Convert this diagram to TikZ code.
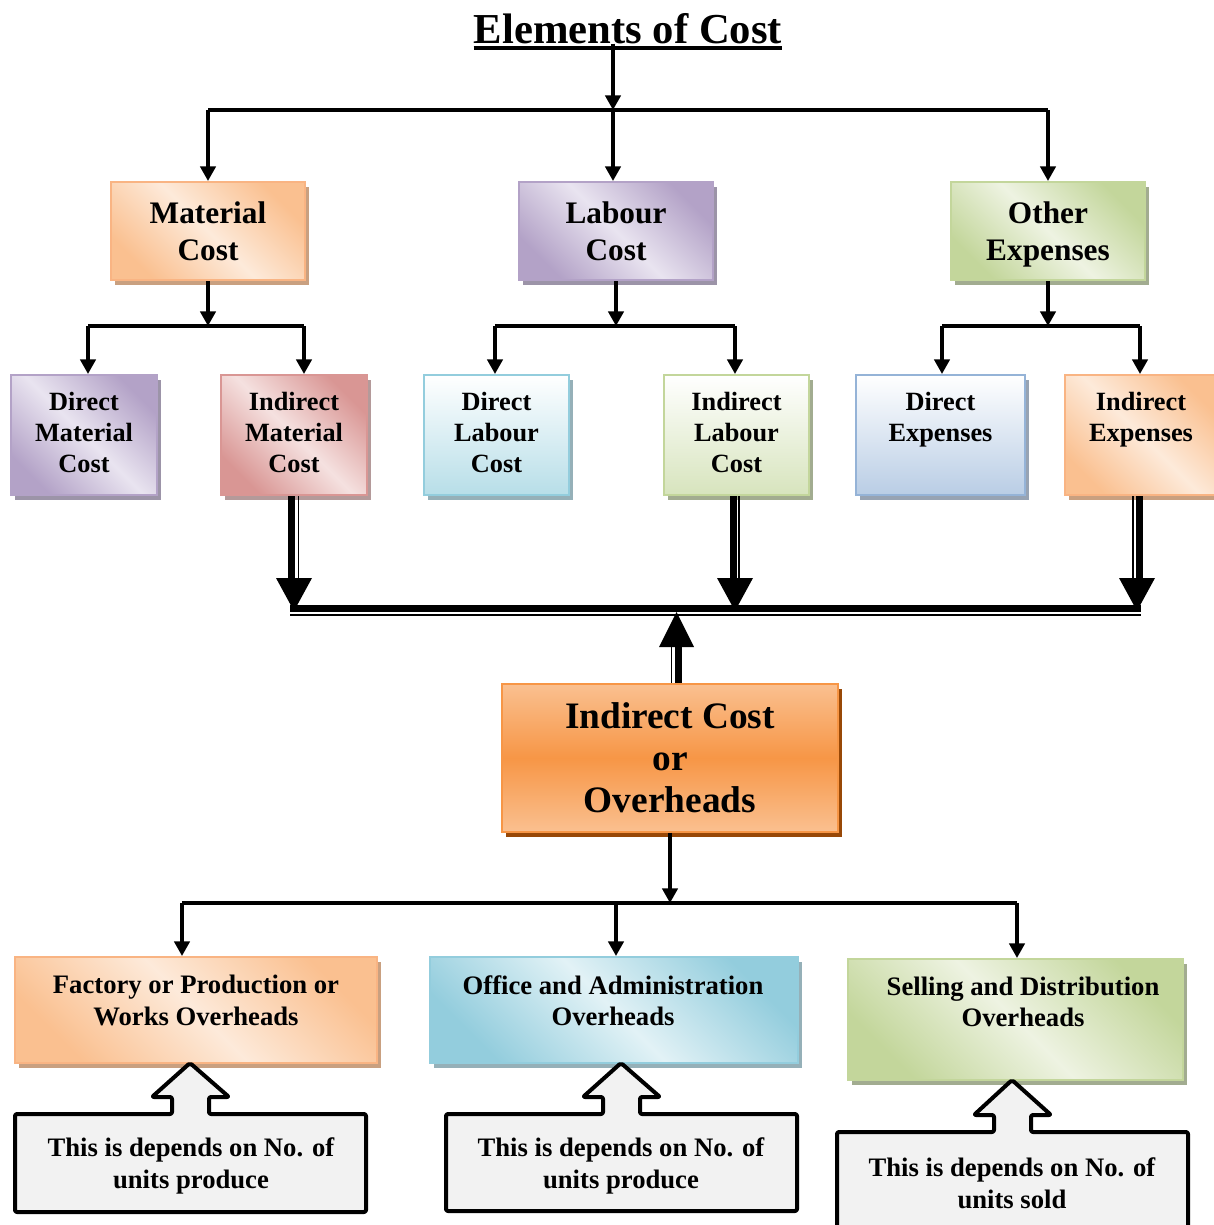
\documentclass[tikz,border=0pt]{standalone}
\usepackage{fontspec}
\setmainfont{Liberation Serif}
\usetikzlibrary{arrows.meta,shadows,calc}
\definecolor{orD}{HTML}{FAC090}
\definecolor{orL}{HTML}{FDEADA}
\definecolor{orB}{HTML}{F9B483}
\definecolor{orS}{HTML}{C9A080}
\definecolor{puD}{HTML}{B3A2C7}
\definecolor{puL}{HTML}{E9E4F0}
\definecolor{puS}{HTML}{9C94A8}
\definecolor{grD}{HTML}{C3D69B}
\definecolor{grL}{HTML}{EEF3E2}
\definecolor{grS}{HTML}{A2AC90}
\definecolor{rdD}{HTML}{D99694}
\definecolor{rdL}{HTML}{F5E1E0}
\definecolor{rdS}{HTML}{B49A9A}
\definecolor{blD}{HTML}{B7DEE8}
\definecolor{blB}{HTML}{93CDDD}
\definecolor{blS}{HTML}{95B0B8}
\definecolor{bbD}{HTML}{B9CDE5}
\definecolor{bbB}{HTML}{95B3D7}
\definecolor{bbS}{HTML}{97A3B3}
\definecolor{g2D}{HTML}{D7E4BD}
\definecolor{icL}{HTML}{FAC090}
\definecolor{icM}{HTML}{F79646}
\definecolor{icS}{HTML}{984807}
\definecolor{ofD}{HTML}{93CDDD}
\definecolor{ofL}{HTML}{E2F2F6}
\definecolor{cfill}{HTML}{F2F2F2}
\begin{document}
\begin{tikzpicture}[x=0.75pt,y=-0.75pt,
  box/.style={draw, line width=1.5pt, inner sep=0pt, align=center},
  diag/.style 2 args={top color=#1, bottom color=#1, middle color=#2, shading angle=-45},
  vert/.style={top color=white, bottom color=#1},
  shad/.style={general shadow={fill=#1, shadow xshift=3pt, shadow yshift=-3.75pt}},
  lone/.style={box, minimum width=145.5pt, minimum height=73.5pt, font=\bfseries\fontsize{23.5}{27.75}\selectfont},
  ltwo/.style={box, minimum height=90pt, font=\bfseries\fontsize{19.75}{23.25}\selectfont},
  lthree/.style={box, font=\bfseries\fontsize{20}{23.25}\selectfont},
  txt/.style={inner sep=0pt, align=center, font=\bfseries\fontsize{20}{23.5}\selectfont},
  conn/.style={line width=2.6pt},
  arr/.style={conn, -{Triangle[length=11pt,width=11.5pt]}},
  thickln/.style={line width=5.25pt},
  thinln/.style={line width=1.1pt},
  callout/.style={draw=black, line width=3pt, fill=cfill, line join=round, rounded corners=1.5pt}
]
\useasboundingbox (0,0) rectangle (1214,1225);

% title
\node[inner sep=0pt, anchor=base, font=\bfseries\fontsize{32}{38}\selectfont] (title) at (628,43) {Elements of Cost};
\draw[line width=3pt] ($(title.base west)+(0,4.5)$) -- ($(title.base east)+(0,4.5)$);

% level 1
\node[lone, diag={orD}{orL}, draw=orB, shad=orS] (mat) at (208,231) {Material\\Cost};
\node[lone, diag={puD}{puL}, draw=puD, shad=puS] (lab) at (616,231) {Labour\\Cost};
\node[lone, diag={grD}{grL}, draw=grD, shad=grS, text depth=0pt] (oth) at (1048,231) {Other\\Expenses};

% level 2
\node[ltwo, minimum width=109.5pt, diag={puD}{puL}, draw=puD, shad=puS] (dmc) at (84,435) {Direct\\Material\\Cost\\[-18.75pt]};
\node[ltwo, minimum width=109.5pt, diag={rdD}{rdL}, draw=rdD, shad=rdS] (imc) at (294,435) {Indirect\\Material\\Cost\\[-18.75pt]};
\node[ltwo, minimum width=108.75pt, vert=blD, draw=blB, shad=blS] (dlc) at (496.5,435) {Direct\\Labour\\Cost\\[-18.75pt]};
\node[ltwo, minimum width=108.75pt, vert=g2D, draw=grD, shad=grS] (ilc) at (736.5,435) {Indirect\\Labour\\Cost\\[-18.75pt]};
\node[ltwo, minimum width=126.75pt, vert=bbD, draw=bbB, shad=bbS] (dex) at (940.5,435) {Direct\\Expenses\\[4.5pt]};
\node[ltwo, minimum width=114pt, diag={orD}{orL}, draw=orB, shad=orS] (iex) at (1141,435) {Indirect\\Expenses\\[4.5pt]};

% indirect cost
\node[box, minimum width=252pt, minimum height=111pt, top color=icL, bottom color=icL, middle color=icM, draw=icM, line width=1.2pt, shad=icS, font=\bfseries\fontsize{28}{31.5}\selectfont] (ic) at (670,758) {Indirect Cost\\or\\Overheads};

% level 3
\node[lthree, minimum width=271.5pt, minimum height=79.5pt, diag={orD}{orL}, draw=orB, shad=orS] (fac) at (196,1010) {};
\node[lthree, minimum width=276pt, minimum height=79.5pt, diag={ofD}{ofL}, draw=blB, shad=blS] (off) at (614,1010) {};
\node[lthree, minimum width=251.25pt, minimum height=90.75pt, diag={grD}{grL}, draw=grD, shad=grS] (sel) at (1015.5,1019.5) {};
\node[txt] (fact) at (196,1000.5) {Factory or Production or\\Works Overheads};
\node[txt] (offt) at (613,1000.5) {Office and Administration\\Overheads};
\node[txt] (selt) at (1023,1002) {Selling and Distribution\\Overheads};

% top connectors
\coordinate (j0) at (613,110);
\draw[arr] (title.south -| j0) -- (j0);
\draw[conn] (mat.north |- j0) -- (oth.north |- j0);
\draw[arr] (mat.north |- j0) -- (mat.north);
\draw[arr] (j0) -- (j0 |- lab.north);
\draw[arr] (oth.north |- j0) -- (oth.north);

% level1 -> level2
\coordinate (j1) at (208,326);
\coordinate (m1) at (88,326);
\coordinate (m2) at (304,326);
\draw[arr] (mat.south) -- (j1);
\draw[conn] (m1) -- (m2);
\draw[arr] (m1) -- (m1 |- dmc.north);
\draw[arr] (m2) -- (m2 |- imc.north);

\coordinate (j2) at (616,326);
\coordinate (l1) at (495,326);
\coordinate (l2) at (735,326);
\draw[arr] (lab.south) -- (j2);
\draw[conn] (l1) -- (l2);
\draw[arr] (l1) -- (l1 |- dlc.north);
\draw[arr] (l2) -- (l2 |- ilc.north);

\coordinate (j3) at (1048,326);
\coordinate (o1) at (942,326);
\coordinate (o2) at (1140,326);
\draw[arr] (oth.south) -- (j3);
\draw[conn] (o1) -- (o2);
\draw[arr] (o1) -- (o1 |- dex.north);
\draw[arr] (o2) -- (o2 |- iex.north);

% thick double arrows into the bus
\coordinate (B1) at (294,611);
\coordinate (B2) at (735,611);
\coordinate (B3) at (1137,611);
\draw[thickln] ($(B1 |- imc.south)+(-2.5,0)$) -- ($(B1)+(-2.5,-30)$);
\draw[thinln] ($(B1 |- imc.south)+(4.5,0)$) -- ($(B1)+(4.5,-30)$);
\fill ($(B1)+(-18,-33)$) -- ($(B1)+(18,-33)$) -- (B1) -- cycle;
\draw[thickln] ($(B2 |- ilc.south)+(-2,0)$) -- ($(B2)+(-2,-30)$);
\draw[thinln] ($(B2 |- ilc.south)+(4,0)$) -- ($(B2)+(4,-30)$);
\fill ($(B2)+(-18,-33)$) -- ($(B2)+(18,-33)$) -- (B2) -- cycle;
\draw[thickln] ($(B3 |- iex.south)+(2.7,0)$) -- ($(B3)+(2.7,-30)$);
\draw[thinln] ($(B3 |- iex.south)+(-4,0)$) -- ($(B3)+(-4,-30)$);
\fill ($(B3)+(-18,-33)$) -- ($(B3)+(18,-33)$) -- (B3) -- cycle;
% bus
\draw[line width=5.25pt] ($(B1)+(-4,-3)$) -- ($(B3)+(4,-3)$);
\draw[thinln] ($(B1)+(-4,4)$) -- ($(B3)+(4,4)$);

% up arrow from indirect cost
\coordinate (U) at (676.5,612);
\draw[thickln] ($(U |- ic.north)+(1.8,0)$) -- ($(U)+(1.8,32)$);
\draw[thinln] ($(U |- ic.north)+(-4.8,0)$) -- ($(U)+(-4.8,32)$);
\fill ($(U)+(-17.5,35)$) -- ($(U)+(17.5,35)$) -- (U) -- cycle;

% indirect cost -> level 3
\coordinate (j4) at (670,903);
\coordinate (q1) at (182,903);
\coordinate (q2) at (616,903);
\coordinate (q3) at (1017,903);
\draw[arr] (ic.south) -- (j4);
\draw[conn] (q1) -- (q3);
\draw[arr] (q1) -- (q1 |- fac.north);
\draw[arr] (q2) -- (q2 |- off.north);
\draw[arr] (q3) -- (q3 |- sel.north);

% callouts
\draw[callout] (15,1114) -- (172,1114) -- (172,1097) -- (152,1097) -- (190,1063) -- (229,1097) -- (209,1097) -- (209,1114) -- (366,1114) -- (366,1212) -- (15,1212) -- cycle;
\draw[callout] (446,1114) -- (603,1114) -- (603,1097) -- (583,1097) -- (621,1063) -- (660,1097) -- (640,1097) -- (640,1114) -- (797,1114) -- (797,1211) -- (446,1211) -- cycle;
\draw[callout] (837,1132) -- (994,1132) -- (994,1115) -- (974,1115) -- (1012,1080) -- (1051,1115) -- (1031,1115) -- (1031,1132) -- (1188,1132) -- (1188,1240) -- (837,1240) -- cycle;
\node[txt, font=\bfseries\fontsize{20}{24}\selectfont] (c1) at (191,1166) {This is depends on No. of\\units produce};
\node[txt, font=\bfseries\fontsize{20}{24}\selectfont] (c2) at (621,1166) {This is depends on No. of\\units produce};
\node[txt, font=\bfseries\fontsize{20}{24}\selectfont] (c3) at (1012,1183) {This is depends on No. of\\units sold};
\end{tikzpicture}
\end{document}
